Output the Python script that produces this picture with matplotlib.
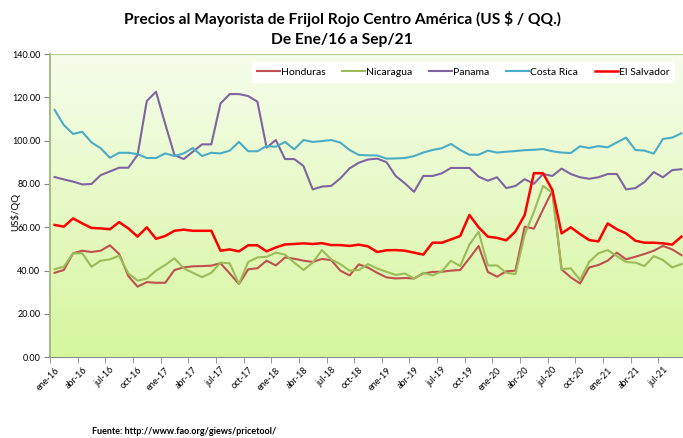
"""Precios al mayorista de frijol rojo en Centroamérica, ene-2016 a sep-2021."""

import matplotlib

matplotlib.use("Agg")
import matplotlib.pyplot as plt
import numpy as np

plt.rcParams["font.family"] = ["Lato", "DejaVu Sans"]

# monthly series, Jan-2016 .. Sep-2021 (US$ / QQ)
honduras = [
    39.0, 40.3, 48.0, 49.2, 48.6, 49.2, 51.7, 47.7, 37.5, 32.6, 34.7, 34.4,
    34.4, 40.3, 41.5, 42.0, 42.1, 42.3, 43.4, 38.7, 33.8, 40.6, 41.1, 44.6,
    42.4, 46.1, 45.5, 44.6, 44.0, 45.4, 44.9, 40.0, 37.8, 42.9, 41.4, 39.0,
    36.9, 36.4, 36.6, 36.4, 38.7, 39.4, 39.5, 40.0, 40.3, 45.7, 51.4, 39.4,
    37.2, 39.7, 40.0, 60.3, 59.4, 68.3, 76.9, 40.6, 36.9, 34.1, 41.5, 42.6,
    44.6, 48.3, 45.2, 46.4, 47.7, 49.2, 51.4, 49.8, 47.2,
]
nicaragua = [
    40.7, 41.8, 48.0, 48.0, 41.8, 44.6, 45.2, 46.9, 38.7, 35.4, 36.3, 40.0,
    42.6, 45.7, 41.1, 39.0, 37.0, 39.0, 43.7, 43.4, 33.8, 44.0, 46.1, 46.4,
    48.3, 47.4, 43.7, 40.3, 43.7, 49.5, 45.2, 43.0, 40.0, 40.3, 43.0, 41.0,
    39.5, 38.0, 38.7, 36.3, 39.0, 37.8, 39.7, 44.6, 42.1, 52.0, 58.0, 42.4,
    42.4, 39.0, 38.4, 56.6, 67.2, 79.1, 76.0, 40.6, 41.1, 35.7, 44.1, 48.0,
    49.5, 46.7, 44.0, 43.7, 42.1, 46.7, 44.9, 41.5, 43.0,
]
panama = [
    83.2, 82.1, 81.1, 79.8, 80.0, 84.1, 85.8, 87.5, 87.5, 93.4, 118.3, 122.6,
    107.7, 93.4, 91.5, 94.9, 98.3, 98.3, 117.2, 121.5, 121.5, 120.6, 118.0, 96.8,
    100.3, 91.5, 91.5, 88.3, 77.5, 78.8, 79.1, 82.6, 87.2, 89.8, 91.3, 91.7,
    90.1, 83.7, 80.3, 76.4, 83.7, 83.7, 84.9, 87.4, 87.4, 87.4, 83.4, 81.5,
    83.1, 78.1, 79.1, 82.2, 80.1, 84.6, 83.7, 87.1, 84.6, 83.1, 82.4, 83.1,
    84.6, 84.6, 77.5, 78.1, 80.9, 85.5, 83.1, 86.4, 86.8,
]
costa_rica = [
    114.2, 107.2, 103.1, 104.1, 99.2, 96.5, 92.1, 94.4, 94.4, 93.8, 92.0, 92.0,
    94.1, 92.9, 94.1, 96.6, 92.9, 94.4, 94.1, 95.4, 99.4, 95.1, 95.1, 97.5,
    97.2, 99.4, 96.0, 100.3, 99.4, 99.8, 100.3, 99.1, 95.7, 93.4, 93.2, 93.2,
    91.7, 91.8, 92.0, 92.9, 94.5, 95.7, 96.5, 98.5, 95.7, 93.5, 93.5, 95.4,
    94.5, 94.9, 95.2, 95.6, 95.8, 96.1, 95.1, 94.5, 94.3, 97.4, 96.6, 97.5,
    96.9, 99.2, 101.4, 95.7, 95.4, 94.0, 100.8, 101.4, 103.4,
]
el_salvador = [
    61.1, 60.3, 64.1, 61.8, 59.7, 59.5, 59.1, 62.4, 59.5, 55.7, 60.0, 54.7,
    56.0, 58.4, 58.9, 58.4, 58.4, 58.4, 49.2, 49.8, 48.9, 51.7, 51.7, 48.9,
    50.7, 52.1, 52.3, 52.6, 52.3, 52.7, 51.8, 51.8, 51.4, 52.0, 51.2, 48.6,
    49.4, 49.5, 49.2, 48.3, 47.4, 52.9, 52.9, 54.4, 56.0, 65.7, 60.0, 55.7,
    55.1, 54.0, 58.1, 65.7, 85.0, 84.9, 77.2, 57.2, 60.0, 56.9, 54.1, 53.5,
    61.8, 59.1, 57.2, 53.8, 52.9, 52.9, 52.6, 52.0, 55.7,
]

month_names = ["ene", "abr", "jul", "oct"]
years = ["16", "17", "18", "19", "20", "21"]
tick_labels = [f"{m}-{y}" for y in years for m in month_names][:23]

series = [
    ("Honduras", honduras, "#C0504D", 1.5),
    ("Nicaragua", nicaragua, "#9BBB59", 1.5),
    ("Panama", panama, "#8064A2", 1.5),
    ("Costa Rica", costa_rica, "#4BACC6", 1.5),
    ("El Salvador", el_salvador, "#FF0000", 1.8),
]

n = len(honduras)
x = np.arange(n)

fig = plt.figure(figsize=(6.83, 4.38), dpi=100)
ax = fig.add_axes([50 / 683, 80.7 / 438, 636 / 683, 303.3 / 438])

# light green vertical gradient for the plot area
top = np.array([246, 253, 236]) / 255
bottom = np.array([214, 246, 158]) / 255
t = np.linspace(0, 1, 256)[:, None]
grad = (top * (1 - t) + bottom * t)[:, None, :]
ax.imshow(grad, extent=[-0.5, n - 0.5, 0, 140], aspect="auto", zorder=0,
          interpolation="bilinear")

for name, vals, color, lw in series:
    ax.plot(x, vals, color=color, lw=lw, label=name, zorder=3)

ax.set_xlim(-0.5, n - 0.5)
ax.set_ylim(0, 140)
ax.set_yticks(np.arange(0, 141, 20))
ax.set_yticklabels([f"{v:.2f}" for v in range(0, 141, 20)], fontsize=6.5)

ax.set_xticks(np.arange(0, n, 3))
ax.set_xticklabels(tick_labels, rotation=45, ha="right", rotation_mode="anchor",
                   fontsize=6.5)
ax.set_xticks(np.arange(-0.5, n, 3), minor=True)
ax.tick_params(axis="x", which="major", length=0, pad=6)
ax.tick_params(axis="x", which="minor", length=4, color="#888888")
ax.tick_params(axis="y", length=4, color="#888888", pad=3)

ax.spines["right"].set_visible(False)
ax.spines["left"].set_color("#A4BC80")
ax.spines["left"].set_linewidth(1.4)
ax.spines["top"].set_color("#B8CF92")
ax.spines["bottom"].set_color("#8C8C8C")

fig.text(15 / 683, 1 - 212 / 438, "US$/QQ", rotation=90, ha="center", va="center",
         fontsize=7)

leg = ax.legend(loc="upper right", bbox_to_anchor=(0.99, 0.99), ncol=5, fontsize=7.5,
                frameon=True, fancybox=False, handlelength=2.2, handletextpad=0.1,
                columnspacing=1.6, borderpad=0.5)
leg.get_frame().set_facecolor("white")
leg.get_frame().set_edgecolor("white")
leg.get_frame().set_alpha(1)

fig.text(342 / 683, 1 - 19 / 438,
         "Precios al Mayorista de Frijol Rojo Centro América (US $ / QQ.)",
         ha="center", va="center", fontsize=11.2, fontweight="bold")
fig.text(342 / 683, 1 - 40 / 438, "De Ene/16 a Sep/21",
         ha="center", va="center", fontsize=11.2, fontweight="bold")

fig.text(92 / 683, 1 - 432 / 438, "Fuente: http://www.fao.org/giews/pricetool/",
         ha="left", va="center", fontsize=6.5, fontweight="bold")

fig.savefig("out.png", dpi=100)
